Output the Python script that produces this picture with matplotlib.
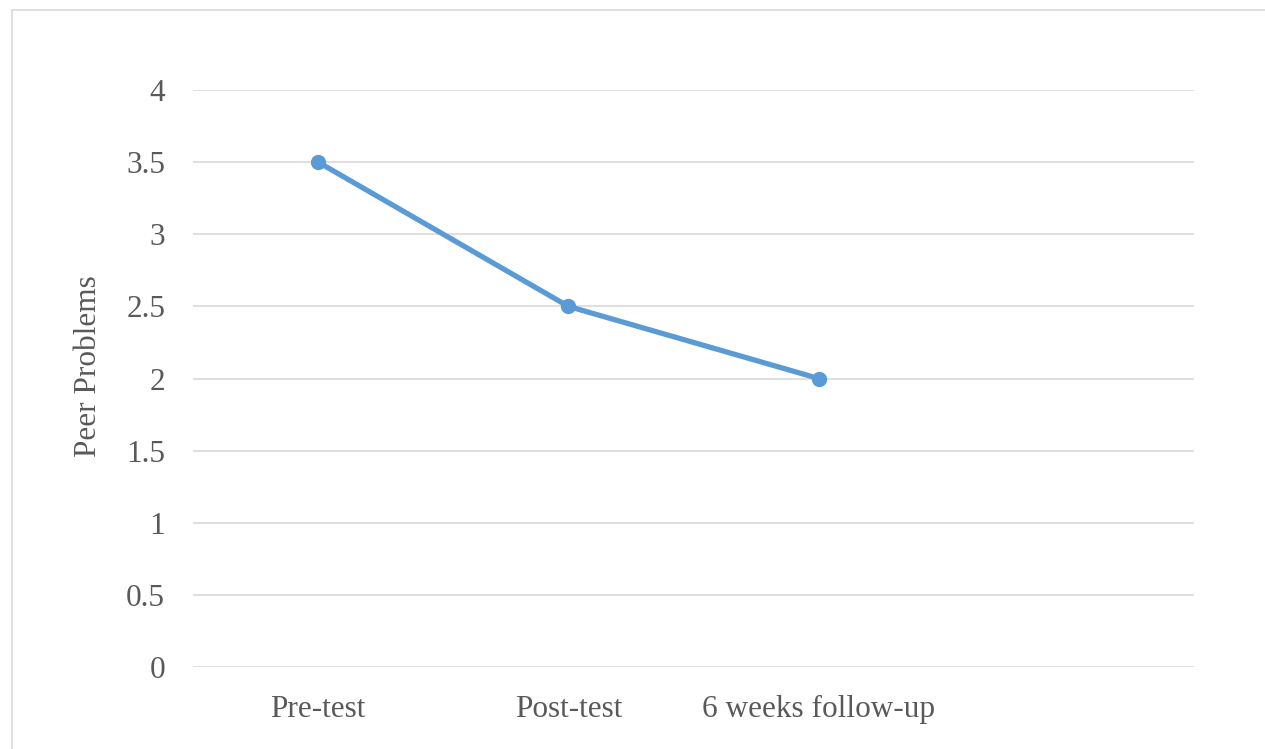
import matplotlib
matplotlib.use("Agg")
import matplotlib.pyplot as plt
from matplotlib.patches import Rectangle

categories = ["Pre-test", "Post-test", "6 weeks follow-up", ""]
values = [3.5, 2.5, 2.0]
y_ticks = [0, 0.5, 1, 1.5, 2, 2.5, 3, 3.5, 4]
y_tick_labels = ["0", "0.5", "1", "1.5", "2", "2.5", "3", "3.5", "4"]
y_label = "Peer Problems"

W, H = 1265, 749
plt.rcParams["font.family"] = ["Liberation Serif", "DejaVu Serif"]
text_color = "#595959"
line_color = "#5B9BD5"

fig = plt.figure(figsize=(W / 100, H / 100), dpi=100)
fig.patch.set_facecolor("white")

# chart-area frame
fig.patches.append(Rectangle((12 / W, -0.1), 1.2, 1 - 10 / H + 0.1,
                             transform=fig.transFigure, fill=False,
                             edgecolor="#D9D9D9", linewidth=1.2))

ax = fig.add_axes([193 / W, 1 - 667 / H, (1194 - 193) / W, (667 - 90) / H])
x = list(range(len(categories)))
ax.plot(x[:len(values)], values, color=line_color, linewidth=3.8,
        marker="o", markersize=10, solid_capstyle="round", zorder=3)

ax.set_xlim(-0.5, len(categories) - 0.5)
ax.set_ylim(0, 4)
ax.set_yticks(y_ticks)
ax.set_yticklabels(y_tick_labels)
ax.set_xticks(x)
ax.set_xticklabels(categories)
ax.grid(axis="y", color="#D9D9D9", linewidth=1.2)
ax.set_axisbelow(True)
for s in ax.spines.values():
    s.set_visible(False)
ax.tick_params(axis="both", length=0, labelsize=22.5, colors=text_color)
ax.tick_params(axis="y", pad=20)
ax.tick_params(axis="x", pad=20)
ax.set_ylabel(y_label, fontsize=22.5, color=text_color)
ax.yaxis.set_label_coords(-0.090, 0.521)

fig.savefig("out.png", dpi=100)
